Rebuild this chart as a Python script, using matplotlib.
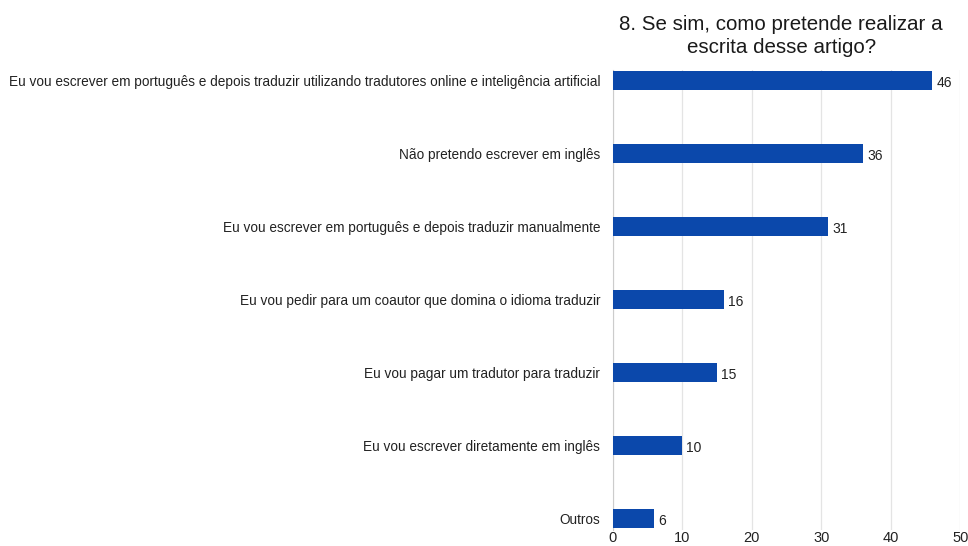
import matplotlib.pyplot as plt

plt.rcParams['font.family'] = ['Liberation Sans', 'DejaVu Sans']

categories = [
    "Eu vou escrever em português e depois traduzir utilizando tradutores online e inteligência artificial",
    "Não pretendo escrever em inglês",
    "Eu vou escrever em português e depois traduzir manualmente",
    "Eu vou pedir para um coautor que domina o idioma traduzir",
    "Eu vou pagar um tradutor para traduzir",
    "Eu vou escrever diretamente em inglês",
    "Outros",
]
counts = [46, 36, 31, 16, 15, 10, 6]
x_ticks = [0, 10, 20, 30, 40, 50]
title = "8. Se sim, como pretende realizar a\nescrita desse artigo?"

fig = plt.figure(figsize=(9.68, 5.46), dpi=100)
ax = fig.add_axes([0.633, 0.0295, 0.359, 0.843])

ypos = list(range(len(categories)))
ax.barh(ypos, counts, height=0.26, color='#0b48ab', zorder=3)
for y, v in zip(ypos, counts):
    ax.text(v + 0.6, y + 0.03, str(v), va='center', ha='left', fontsize=10, color='#222222')

ax.set_xlim(0, 50)
ax.set_ylim(6.15, -0.15)
ax.set_xticks(x_ticks)
ax.set_yticks(ypos)
ax.set_yticklabels(categories, fontsize=9.8, color='#222222')
ax.tick_params(axis='y', length=0, pad=9)
ax.tick_params(axis='x', length=0, pad=1, labelsize=10.5, labelcolor='#222222')
ax.grid(axis='x', color='#e4e4e4', linewidth=0.9, zorder=0)
for side in ['top', 'right', 'bottom']:
    ax.spines[side].set_visible(False)
ax.spines['left'].set_color('#cccccc')

fig.text(0.807, 0.896, title, ha='center', va='bottom', fontsize=14.8, color='#1a1a1a', linespacing=1.22)

fig.savefig('out.png', dpi=100, facecolor='white')
